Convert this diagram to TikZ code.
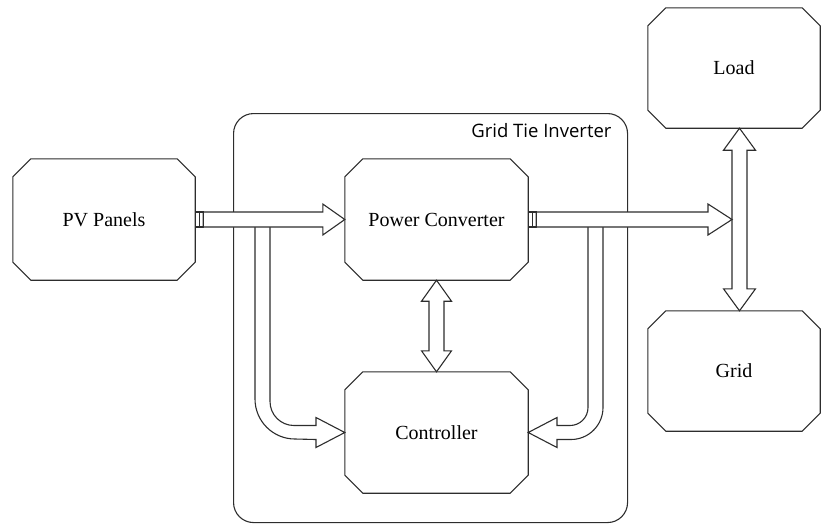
\documentclass[tikz,border=0pt]{standalone}
\usepackage{fontspec}
\setmainfont{Liberation Serif}
\newfontfamily\blockfont{Liberation Serif}
\newfontfamily\framefont{Open Sans}
\usepackage{xcolor}
\definecolor{lineblack}{RGB}{45,45,45}
\usetikzlibrary{positioning, calc}

\begin{document}
\begin{tikzpicture}[
    x=1pt, y=1pt,
    every node/.style={font=\blockfont\fontsize{20}{24}\selectfont},
    block/.style={rectangle, fill=white, minimum width=183pt, minimum height=121pt,
                  inner sep=0pt},
    boxline/.style={draw=lineblack, line width=1.1pt, line join=miter},
    hollow/.style={draw=lineblack, line width=1.1pt, fill=white, line join=miter},
    port/.style={draw=lineblack, line width=1.1pt, fill=white},
]
\useasboundingbox (0,0) rectangle (821,-523);

% ---- Inverter frame ----
\node[draw=lineblack, line width=1.1pt, rounded corners=20pt,
      minimum width=394pt, minimum height=409pt, inner sep=0pt,
      anchor=north west] (gti) at (233,-113) {};
\node[font=\framefont\fontsize{18.5}{22}\selectfont, anchor=base east]
      (gtilabel) at (615,-137) {Grid Tie Inverter};

% ---- Blocks ----
\node[block, minimum width=182pt] (pv) at (104,-219.5) {PV Panels};
\node[block] (pc)   at (436.5,-219.5) {Power Converter};
\node[block] (ctrl) at (436.5,-432.5) {Controller};
\node[block, minimum width=172pt, minimum height=120pt] (load) at (734,-68) {Load};
\node[block, minimum width=172pt, minimum height=120pt] (grid) at (734,-371) {Grid};

% chamfered outlines
\foreach \b in {pv, pc, ctrl, load, grid} {
  \draw[boxline] ($(\b.north west)+(18,0)$) -- ($(\b.north east)+(-18,0)$)
        -- ($(\b.north east)+(0,-18)$) -- ($(\b.south east)+(0,18)$)
        -- ($(\b.south east)+(-18,0)$) -- ($(\b.south west)+(18,0)$)
        -- ($(\b.south west)+(0,18)$) -- ($(\b.north west)+(0,-18)$) -- cycle;
}

% ---- Bus between load and grid ----
\coordinate (bustop) at ($(load.south)+(5.5,0)$);
\coordinate (busbot) at ($(grid.north)+(5.5,0)$);
\coordinate (busin)  at (bustop |- pc.east);

% ---- Bent feeds into controller ----
\draw[hollow] (255,-227) -- (255,-399) arc[start angle=180, end angle=270, radius=40]
      -- (316,-439.5) -- (316,-447.5) -- (ctrl.west) -- (316,-417.5) -- (316,-425.5)
      -- (294,-425.5) arc[start angle=270, end angle=180, radius=24] -- (270,-227);
\draw[hollow] (603,-227) -- (603,-407.5) arc[start angle=0, end angle=-90, radius=32]
      -- (557,-439.5) -- (557,-447.5) -- (ctrl.east) -- (557,-417.5) -- (557,-425.5)
      -- (570,-425.5) arc[start angle=270, end angle=360, radius=18] -- (588,-227);

% ---- PV -> Power Converter ----
\draw[port] ($(pv.east)+(0,7.5)$) rectangle ($(pv.east)+(8,-7.5)$);
\draw[lineblack, line width=1.1pt] ($(pv.east)+(4,7.5)$) -- ($(pv.east)+(4,-7.5)$);
\draw[hollow] ($(pv.east)+(8,7.5)$) -- ($(pc.west)+(-22,7.5)$) -- ($(pc.west)+(-22,15.5)$)
      -- (pc.west) -- ($(pc.west)+(-22,-15.5)$) -- ($(pc.west)+(-22,-7.5)$)
      -- ($(pv.east)+(8,-7.5)$) -- cycle;

% ---- Power Converter <-> Controller ----
\draw[hollow] (pc.south) -- ($(pc.south)+(15,-21)$) -- ($(pc.south)+(7.5,-21)$)
      -- ($(ctrl.north)+(7.5,21)$) -- ($(ctrl.north)+(15,21)$) -- (ctrl.north)
      -- ($(ctrl.north)+(-15,21)$) -- ($(ctrl.north)+(-7.5,21)$)
      -- ($(pc.south)+(-7.5,-21)$) -- ($(pc.south)+(-15,-21)$) -- cycle;

% ---- Load <-> Grid ----
\draw[hollow] (bustop) -- ($(bustop)+(16,-22)$) -- ($(bustop)+(7.5,-22)$)
      -- ($(busbot)+(7.5,22)$) -- ($(busbot)+(16,22)$) -- (busbot)
      -- ($(busbot)+(-16,22)$) -- ($(busbot)+(-7.5,22)$)
      -- ($(bustop)+(-7.5,-22)$) -- ($(bustop)+(-16,-22)$) -- cycle;

% ---- Power Converter -> bus ----
\draw[port] ($(pc.east)+(0,7.5)$) rectangle ($(pc.east)+(8,-7.5)$);
\draw[lineblack, line width=1.1pt] ($(pc.east)+(4,7.5)$) -- ($(pc.east)+(4,-7.5)$);
\draw[hollow] ($(pc.east)+(8,7.5)$) -- ($(busin)+(-31.5,7.5)$) -- ($(busin)+(-31.5,15.5)$)
      -- ($(busin)+(-7.5,0)$) -- ($(busin)+(-31.5,-15.5)$) -- ($(busin)+(-31.5,-7.5)$)
      -- ($(pc.east)+(8,-7.5)$) -- cycle;

\end{tikzpicture}
\end{document}
